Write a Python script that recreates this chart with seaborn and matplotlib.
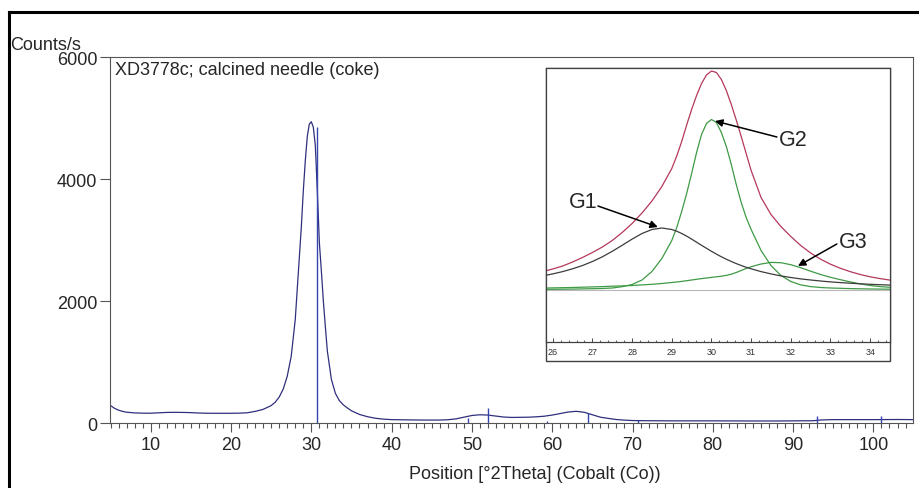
import matplotlib
matplotlib.use('Agg')
import matplotlib.pyplot as plt
import seaborn as sns
from matplotlib.patches import Rectangle
from matplotlib.lines import Line2D
from matplotlib.ticker import MultipleLocator

# XRD scan (Co tube)
two_theta = [5.0, 5.5, 6.0, 6.5, 7.0, 8.0, 9.0, 10.0, 11.0, 12.0, 13.0, 14.0, 15.0,
             16.0, 17.0, 18.0, 19.0, 20.0, 21.0, 22.0, 23.0, 24.0, 25.0, 25.5, 26.0,
             26.5, 27.0, 27.5, 28.0, 28.5, 28.75, 29.0, 29.25, 29.5, 29.75, 30.0,
             30.25, 30.5, 30.75, 31.0, 31.25, 31.5, 31.75, 32.0, 32.5, 33.0, 33.5,
             34.0, 34.5, 35.0, 36.0, 37.0, 38.0, 39.0, 40.0, 42.0, 44.0, 46.0, 47.0,
             48.0, 49.0, 50.0, 51.0, 52.0, 53.0, 54.0, 55.0, 57.0, 58.0, 59.0, 60.0,
             61.0, 62.0, 63.0, 64.0, 65.0, 66.0, 67.0, 68.0, 69.0, 70.0, 72.0, 75.0,
             80.0, 85.0, 88.0, 90.0, 92.5, 93.5, 95.0, 100.0, 103.0, 105.0]
counts = [290, 245, 215, 195, 182, 170, 166, 165, 172, 178, 180, 178, 175,
          168, 165, 164, 164, 164, 166, 172, 195, 228, 290, 345, 430,
          560, 770, 1100, 1700, 2700, 3200, 3800, 4300, 4700, 4900, 4940,
          4850, 4550, 3800, 2965, 2500, 2000, 1580, 1180, 720, 490, 370,
          300, 250, 205, 145, 108, 82, 68, 60, 56, 53, 53, 58,
          72, 100, 128, 140, 135, 118, 102, 96, 100, 106, 116, 135,
          160, 185, 196, 180, 140, 100, 80, 62, 52, 45, 42, 40,
          40, 38, 38, 40, 42, 55, 60, 60, 62, 60]

# reference line markers
stick_pos = [30.74, 49.5, 52.05, 59.4, 64.4, 70.7, 93.0, 101.0]
stick_top = [4850, 80, 255, 45, 165, 50, 125, 115]

# profile fit of the 002 peak (inset), relative intensity
fit_x = [25.75, 26.0, 26.25, 26.5, 26.75, 27.0, 27.25, 27.5, 27.75, 28.0, 28.25,
         28.5, 28.75, 29.0, 29.125, 29.25, 29.375, 29.5, 29.625, 29.75, 29.875,
         30.0, 30.125, 30.25, 30.375, 30.5, 30.625, 30.75, 30.875, 31.0, 31.25,
         31.5, 31.75, 32.0, 32.25, 32.5, 32.75, 33.0, 33.25, 33.5, 33.75, 34.0,
         34.25, 34.5, 34.75]
fit_total = [18, 20.5, 23.5, 27.5, 32, 37, 42.5, 49, 57, 66, 76.5, 88.5, 103, 121,
             133.5, 148, 164.5, 180, 194, 206, 214.5, 218.5, 217, 210, 199, 185, 169.5, 153, 136, 119,
             92, 75, 63, 53, 44, 36.5, 30.3, 25.3, 21.2, 17.8, 15.0, 12.7, 10.9, 9.4, 8.2]
g1 = [13.6, 15.6, 17.9, 20.7, 24.0, 28.0, 32.7, 38.2, 44.2, 50.4, 56.0, 60.0, 61.5, 60.0,
      58.3, 56.0, 53.4, 50.4, 47.3, 44.2, 41.2, 38.2, 35.4, 32.7, 30.3, 28.0, 25.9, 24.0, 22.2, 20.7,
      17.9, 15.6, 13.6, 12.0, 10.6, 9.5, 8.5, 7.6, 6.9, 6.3, 5.7, 5.2, 4.8, 4.4, 4.1]
g2 = [0.2, 0.2, 0.3, 0.4, 0.6, 0.8, 1.0, 1.5, 2.8, 5.0, 9.5, 18, 31, 49,
      62, 78, 96, 116, 137, 155, 166, 170, 167, 157, 143, 125, 105, 87, 72, 60,
      39, 24, 14, 8, 4.6, 2.9, 2.0, 1.5, 1.2, 0.9, 0.7, 0.5, 0.4, 0.3, 0.3]
g3 = [1.4, 1.6, 1.8, 2.0, 2.3, 2.6, 2.9, 3.3, 3.6, 4.0, 4.6, 5.2, 6.0, 7.0,
      7.5, 8.1, 8.8, 9.5, 10.2, 10.9, 11.5, 12.1, 12.7, 13.3, 14.1, 15.3, 17.0, 19.0, 21.0, 22.8,
      25.5, 27.1, 26.8, 24.8, 21.8, 18.3, 15.0, 12.2, 9.8, 7.6, 5.6, 4.0, 2.9, 2.2, 1.8]

sns.set_theme(style='white')
plt.rcParams['font.family'] = ['Liberation Sans', 'DejaVu Sans']

W, H = 920, 489
fig = plt.figure(figsize=(W / 100, H / 100), dpi=100)
fig.patch.set_facecolor('white')

spine_col = '#555555'

# main axes
ax = fig.add_axes([110 / W, 1 - 424.3 / H, 803 / W, 366.3 / H])
sns.lineplot(x=two_theta, y=counts, ax=ax, color='#2f2f7d', linewidth=0.9,
             estimator=None, sort=False)
ax.vlines(stick_pos, 0, stick_top, colors='#3446b0', linewidth=1.0)
ax.set_xlim(4.93, 104.93)
ax.set_ylim(0, 6000)
ax.set_yticks([0, 2000, 4000, 6000])
ax.xaxis.set_major_locator(MultipleLocator(10))
ax.xaxis.set_minor_locator(MultipleLocator(1))
ax.tick_params(axis='x', which='major', bottom=True, direction='out', length=6.5,
               width=0.8, color=spine_col, labelsize=13, pad=3)
ax.tick_params(axis='x', which='minor', bottom=True, direction='out', length=3.5,
               width=0.8, color=spine_col)
ax.tick_params(axis='y', which='major', left=True, direction='out', length=7,
               width=0.8, color=spine_col, labelsize=13, pad=2)
ax.set_xlabel('')
ax.set_ylabel('')
for s in ax.spines.values():
    s.set_color(spine_col)
    s.set_linewidth(0.8)
ax.text(5 / 803, (424.3 - 70) / 366.3, 'XD3778c; calcined needle (coke)',
        transform=ax.transAxes, fontsize=13, va='center', ha='left')

fig.text(10 / W, 1 - 46 / H, 'Counts/s', fontsize=13, va='center', ha='left')
fig.text(535 / W, 1 - 475 / H, 'Position [°2Theta] (Cobalt (Co))',
         fontsize=13, va='center', ha='center')

# inset frame
ix0, ix1, iy0, iy1, iyb = 546, 890, 69, 362, 342.7
fig.add_artist(Rectangle((ix0 / W, 1 - iy1 / H), (ix1 - ix0) / W, (iy1 - iy0) / H,
                         transform=fig.transFigure, facecolor='white',
                         edgecolor='#404040', linewidth=1.0, zorder=2))
ins = fig.add_axes([ix0 / W, 1 - iyb / H, (ix1 - ix0) / W, (iyb - iy0) / H], zorder=3)
ins.set_facecolor('white')
ins.axhline(0, color='#b8b8b8', linewidth=0.8)
sns.lineplot(x=fit_x, y=g3, ax=ins, color='#3f9a45', linewidth=0.9, estimator=None, sort=False)
sns.lineplot(x=fit_x, y=g2, ax=ins, color='#3f9a45', linewidth=0.9, estimator=None, sort=False)
sns.lineplot(x=fit_x, y=g1, ax=ins, color='#3c3c3c', linewidth=0.9, estimator=None, sort=False)
sns.lineplot(x=fit_x, y=fit_total, ax=ins, color='#b4385a', linewidth=0.9, estimator=None, sort=False)
ins.set_xlim(25.83, 34.5)
ins.set_ylim(-52.2, 221.5)
ins.set_yticks([])
ins.xaxis.set_major_locator(MultipleLocator(1))
ins.xaxis.set_minor_locator(MultipleLocator(0.2))
ins.tick_params(axis='x', which='major', bottom=True, direction='in', length=3,
                width=0.7, color='#444444', labelsize=6.5, labelcolor='#333333', pad=4)
ins.tick_params(axis='x', which='minor', bottom=True, direction='in', length=1.5,
                width=0.6, color='#444444')
ins.set_xlabel('')
ins.set_ylabel('')
for s in ins.spines.values():
    s.set_color('#404040')
    s.set_linewidth(0.9)

arrow = dict(arrowstyle='-|>', color='black', lw=1.1, mutation_scale=11, shrinkA=0, shrinkB=0)
ins.annotate('', xy=(28.65, 62.5), xytext=(27.14, 83.5), arrowprops=arrow)
ins.annotate('', xy=(30.09, 168.5), xytext=(31.65, 152.5), arrowprops=arrow)
ins.annotate('', xy=(32.18, 23.5), xytext=(33.16, 45.5), arrowprops=arrow)
ins.text(26.76, 87.5, 'G1', fontsize=15.5, ha='center', va='center')
ins.text(32.05, 150.5, 'G2', fontsize=15.5, ha='center', va='center')
ins.text(33.56, 47.5, 'G3', fontsize=15.5, ha='center', va='center')

# outer page frame
fig.add_artist(Line2D([8.5 / W, 8.5 / W], [0, 1 - 13 / H], color='black', linewidth=2.2,
                      transform=fig.transFigure, solid_capstyle='projecting'))
fig.add_artist(Line2D([8.5 / W, 1], [1 - 13 / H, 1 - 13 / H], color='black', linewidth=2.2,
                      transform=fig.transFigure, solid_capstyle='projecting'))

fig.savefig('out.png', dpi=100)
